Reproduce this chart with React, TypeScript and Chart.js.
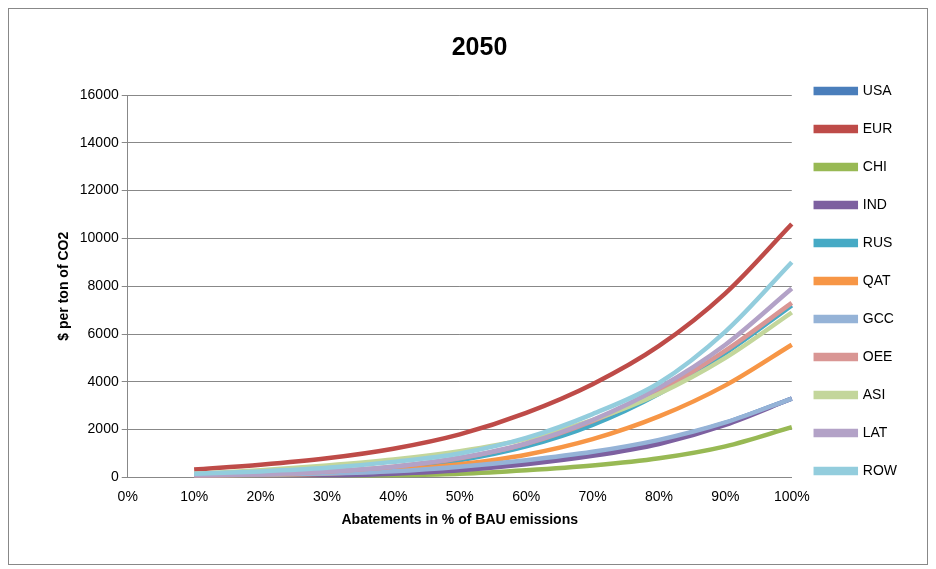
import React, { useEffect, useRef } from "react";
import Chart from "chart.js/auto";

const labels = ["0%", "10%", "20%", "30%", "40%", "50%", "60%", "70%", "80%", "90%", "100%"];
const USA = [null, 80, 100, 150, 250, 430, 680, 1030, 1530, 2280, 3300];
const EUR = [null, 330, 530, 800, 1200, 1800, 2700, 3900, 5500, 7700, 10600];
const CHI = [null, 0, 10, 30, 80, 150, 300, 500, 800, 1300, 2100];
const IND = [null, 0, 20, 50, 150, 300, 550, 900, 1400, 2200, 3300];
const RUS = [null, 50, 100, 200, 380, 720, 1300, 2200, 3500, 5200, 7200];
const QAT = [null, 50, 100, 160, 300, 550, 950, 1600, 2550, 3850, 5550];
const GCC = [null, 100, 110, 160, 260, 450, 720, 1070, 1570, 2300, 3300];
const OEE = [null, 60, 130, 250, 450, 800, 1400, 2350, 3600, 5300, 7300];
const ASI = [null, 150, 300, 500, 750, 1100, 1600, 2400, 3500, 5000, 6900];
const LAT = [null, 60, 130, 250, 450, 820, 1420, 2400, 3750, 5550, 7900];
const ROW = [null, 150, 250, 400, 650, 1000, 1650, 2650, 3950, 6100, 9000];

const series: [string, (number | null)[], string][] = [
  ["USA", USA, "#4a7ebb"],
  ["EUR", EUR, "#be4b48"],
  ["CHI", CHI, "#98b954"],
  ["IND", IND, "#7d60a0"],
  ["RUS", RUS, "#46aac5"],
  ["QAT", QAT, "#f79646"],
  ["GCC", GCC, "#95b3d7"],
  ["OEE", OEE, "#d99694"],
  ["ASI", ASI, "#c3d69b"],
  ["LAT", LAT, "#b3a2c7"],
  ["ROW", ROW, "#93cddd"],
];

const App = () => {
  const canvasRef = useRef<HTMLCanvasElement | null>(null);

  useEffect(() => {
    const ctx = canvasRef.current?.getContext("2d");
    if (!ctx) return;
    const font = "'Liberation Sans', Arial, sans-serif";
    const chart = new Chart(ctx, {
      type: "line",
      data: {
        labels,
        datasets: series.map(([name, data, color], i) => ({
          label: name,
          data,
          order: series.length - i,
          borderColor: color,
          backgroundColor: color,
          borderWidth: 4.5,
          pointRadius: 0,
          cubicInterpolationMode: "monotone" as const,
        })),
      },
      options: {
        animation: false,
        responsive: false,
        layout: { padding: { left: 43, right: 20, top: 20, bottom: 31 } },
        plugins: {
          title: {
            display: true,
            text: "2050",
            color: "#000",
            font: { family: font, size: 25, weight: "bold" },
            padding: { top: 4, bottom: 32 },
          },
          legend: {
            position: "right",
            align: "center",
            labels: {
              color: "#000",
              font: { family: font, size: 14 },
              boxWidth: 40,
              boxHeight: 4,
              padding: 24,
              sort: (a, b) => (a.datasetIndex ?? 0) - (b.datasetIndex ?? 0),
            },
          },
          tooltip: { enabled: false },
        },
        scales: {
          x: {
            offset: false,
            grid: { display: false },
            border: { color: "#888" },
            ticks: { color: "#000", font: { family: font, size: 14 }, maxRotation: 0 },
            title: {
              display: true,
              text: "Abatements in % of BAU emissions",
              color: "#000",
              font: { family: font, size: 14, weight: "bold" },
            },
          },
          y: {
            min: 0,
            max: 16000,
            ticks: {
              stepSize: 2000,
              color: "#000",
              font: { family: font, size: 14 },
              callback: (v) => String(v),
            },
            grid: { color: "#888", drawTicks: true, tickLength: 6 },
            border: { color: "#888" },
            title: {
              display: true,
              text: "$ per ton of CO2",
              color: "#000",
              font: { family: font, size: 14, weight: "bold" },
            },
          },
        },
      },
    });
    return () => chart.destroy();
  }, []);

  return (
    <div style={{ width: 918, height: 555, border: "1px solid #888", background: "#fff" }}>
      <canvas ref={canvasRef} width={918} height={555} />
    </div>
  );
};

export default App;
